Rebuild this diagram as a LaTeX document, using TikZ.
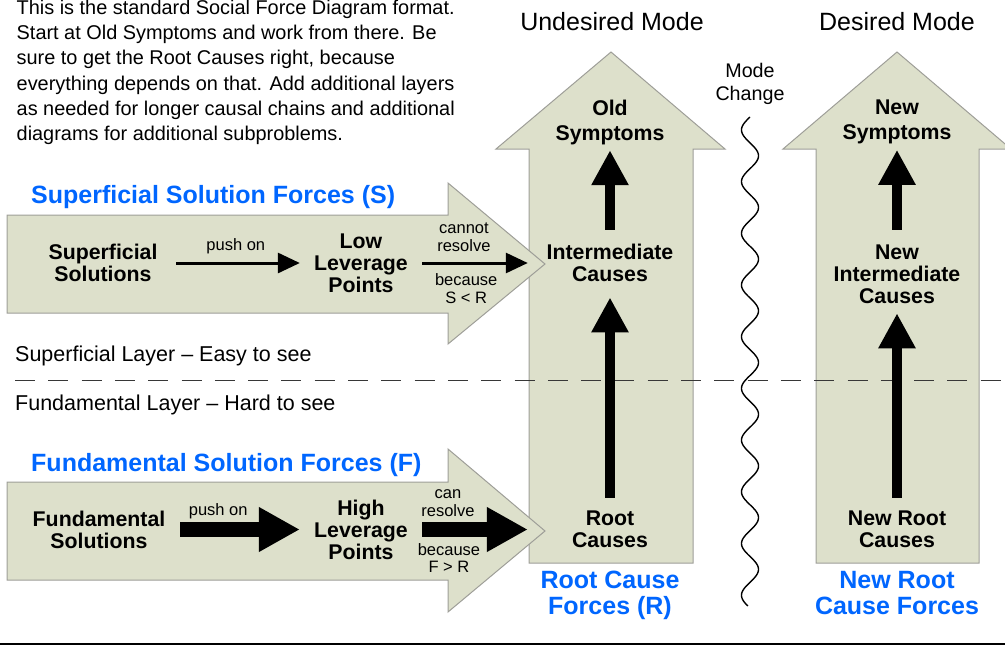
\documentclass[tikz,border=0pt]{standalone}
\usepackage{fontspec}
\setmainfont{Liberation Sans}
\usetikzlibrary{arrows.meta}
\definecolor{forceFill}{RGB}{221,224,203}
\definecolor{forceEdge}{RGB}{158,158,152}
\definecolor{forceBlue}{RGB}{0,102,255}
\definecolor{layerGray}{RGB}{55,55,55}

\begin{document}
\begin{tikzpicture}[x=1pt, y=-1pt,
    force/.style={fill=forceFill, draw=forceEdge, line width=1pt},
    cause/.style={align=center, inner sep=0pt, font=\fontsize{21.3}{22}\selectfont\bfseries},
    symptom/.style={cause, font=\fontsize{21.3}{25}\selectfont\bfseries},
    heading/.style={text=forceBlue, align=center, inner sep=0pt, font=\fontsize{25}{25.7}\selectfont\bfseries},
    small/.style={align=center, inner sep=0pt, font=\fontsize{16.5}{17.5}\selectfont},
    plain/.style={inner sep=0pt, font=\fontsize{21.5}{25}\selectfont},
    thinpush/.style={line width=3pt, -{Triangle[length=22pt, width=20pt]}},
    fatpush/.style={line width=15pt, -{Triangle[length=41pt, width=42pt]}},
    uppush/.style={line width=10pt, -{Triangle[length=35pt, width=35pt]}}]
    \useasboundingbox (0,0) rectangle (1005,646);

    % force arrows
    \filldraw[force] (529,563) -- (529,149) -- (496,149) -- (611,52) -- (725,149) -- (693,149) -- (693,563) -- cycle;
    \filldraw[force] (816,563) -- (816,149) -- (783,149) -- (897,52) -- (1011,149) -- (979,149) -- (979,563) -- cycle;
    \filldraw[force] (7,215) -- (448,215) -- (448,183) -- (545,264) -- (448,344) -- (448,313) -- (7,313) -- cycle;
    \filldraw[force] (7,482) -- (448,482) -- (448,449) -- (545,531) -- (448,612) -- (448,580) -- (7,580) -- cycle;

    % layer line, mode change and bottom rule
    \draw[layerGray, line width=1.5pt, dash pattern=on 20pt off 13.3pt] (15,380.5) -- (1005,380.5);
    \draw[line width=1.4pt] plot[domain=117:606, samples=400, smooth, variable=\t] ({750-8.5*sin(6.9632*(\t-117))}, \t);
    \draw[line width=2.5pt] (0,644) -- (1005,644);

    % texts
    \node[anchor=north west, align=left, inner sep=0pt, font=\fontsize{19.9}{25.3}\selectfont] (intro) at (16.5,-0.5)
        {This is the standard Social Force Diagram format.\\
         Start at Old Symptoms and work from there. Be\\
         sure to get the Root Causes right, because\\
         everything depends on that. Add additional layers\\
         as needed for longer causal chains and additional\\
         diagrams for additional subproblems.};
    \node[plain, font=\fontsize{25}{25}\selectfont, anchor=base] (undesired) at (612,30) {Undesired Mode};
    \node[plain, font=\fontsize{25}{25}\selectfont, anchor=base] (desired) at (897,30) {Desired Mode};
    \node[plain, align=center, font=\fontsize{19.7}{23}\selectfont] (modechange) at (750,83.8) {Mode\\Change};
    \node[heading, anchor=base west] (supforces) at (31,203.3) {Superficial Solution Forces (S)};
    \node[heading, anchor=base west] (fundforces) at (31,471) {Fundamental Solution Forces (F)};
    \node[plain, anchor=base west] (suplayer) at (15,361.7) {Superficial Layer – Easy to see};
    \node[plain, anchor=base west] (fundlayer) at (15,410) {Fundamental Layer – Hard to see};
    \node[heading] (rootforces) at (610,595.6) {Root Cause\\Forces (R)};
    \node[heading] (newforces) at (897,593) {New Root\\Cause Forces};

    % causes
    \node[cause] (supsol) at (103,263) {Superficial\\Solutions};
    \node[cause] (lowlev) at (361,263) {Low\\Leverage\\Points};
    \node[cause] (fundsol) at (99,529.5) {Fundamental\\Solutions};
    \node[cause] (highlev) at (361,529.5) {High\\Leverage\\Points};
    \node[symptom] (oldsym) at (610,122.3) {Old\\Symptoms};
    \node[cause] (intcause) at (610,263) {Intermediate\\Causes};
    \node[cause] (rootcause) at (610,529.5) {Root\\Causes};
    \node[symptom] (newsym) at (897,122.3) {New\\Symptoms};
    \node[cause] (newint) at (897,274) {New\\Intermediate\\Causes};
    \node[cause] (newroot) at (897,529.5) {New Root\\Causes};

    % pushes
    \draw[thinpush, shorten <=18.8pt, shorten >=14.2pt] (supsol) -- node[small, yshift=17pt] (pushlow) {push on} (lowlev);
    \draw[thinpush, shorten <=14.2pt, shorten >=18.7pt] (lowlev) --
        node[small, xshift=-13.3pt, yshift=25.8pt] (cannot) {cannot\\resolve}
        node[small, xshift=-11pt, yshift=-25.7pt] (becauselow) {because\\S < R} (intcause);
    \draw[fatpush, shorten <=14.7pt, shorten >=14.2pt] (fundsol) -- node[small, xshift=-21.5pt, yshift=18.5pt] (pushhigh) {push on} (highlev);
    \draw[fatpush, shorten <=14.2pt, shorten >=44.1pt] (highlev) --
        node[small, xshift=-42pt, yshift=26.2pt] (can) {can\\resolve}
        node[small, xshift=-41pt, yshift=-28.5pt] (becausehigh) {because\\F > R} (rootcause);
    \draw[uppush, shorten <=14.4pt, shorten >=5.3pt] (intcause) -- (oldsym);
    \draw[uppush, shorten <=12.9pt, shorten >=15.4pt] (rootcause) -- (intcause);
    \draw[uppush, shorten <=14.4pt, shorten >=5.3pt] (newint) -- (newsym);
    \draw[uppush, shorten <=12.9pt, shorten >=9.7pt] (newroot) -- (newint);
\end{tikzpicture}
\end{document}
